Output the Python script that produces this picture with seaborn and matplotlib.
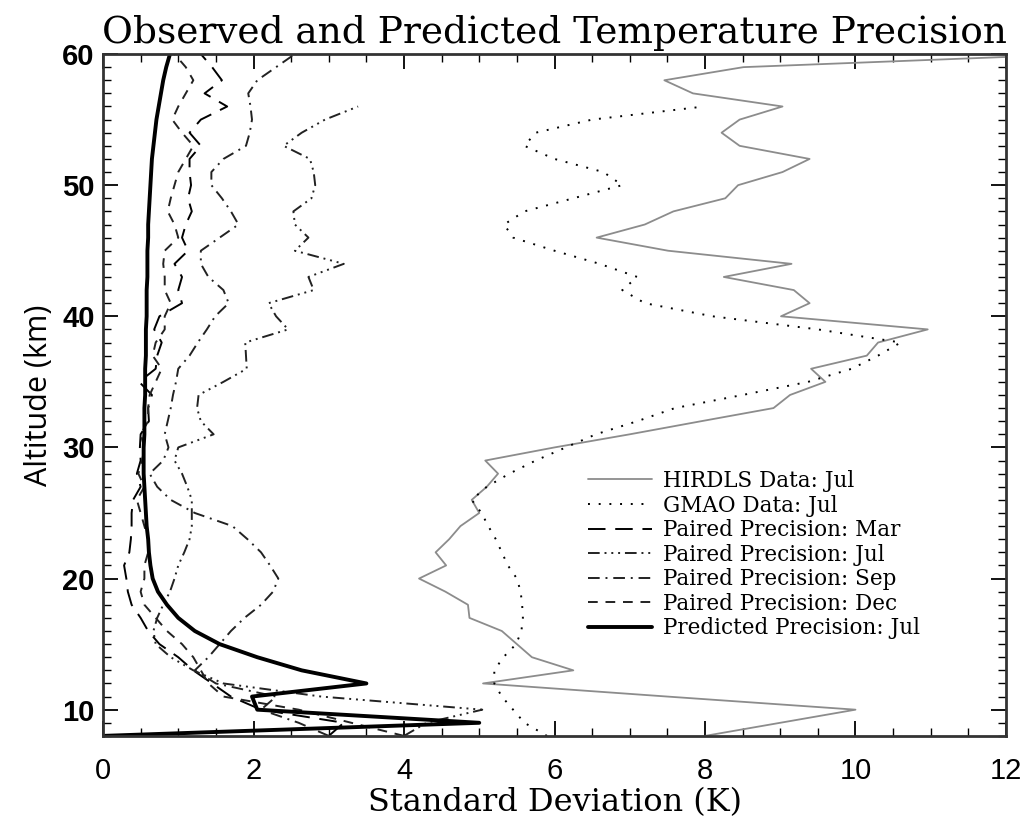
import numpy as np
import matplotlib
matplotlib.use("Agg")
import matplotlib.pyplot as plt
from matplotlib.ticker import MultipleLocator
import seaborn as sns

# altitude levels (km)
alt_full = np.arange(8, 61)
alt_jul = np.arange(8, 57)

hirdls_jul = [8.0, 9.0, 10.0, 7.5, 5.05, 6.25, 5.7, 5.5, 5.3, 4.87, 4.85, 4.55, 4.2,
              4.56, 4.42, 4.6, 4.75, 5.0, 4.9, 5.1, 5.25, 5.08, 6.0, 7.0, 7.95, 8.91,
              9.13, 9.6, 9.41, 10.15, 10.3, 10.96, 9.01, 9.39, 9.18, 8.25, 9.15, 7.51,
              6.56, 7.2, 7.58, 8.27, 8.44, 9.03, 9.39, 8.46, 8.22, 8.46, 9.03, 7.84,
              7.46, 8.51, 13.0]
gmao_jul = [5.9, 5.6, 5.45, 5.3, 5.2, 5.2, 5.32, 5.49, 5.56, 5.58, 5.57, 5.55, 5.5,
            5.38, 5.3, 5.22, 5.12, 5.03, 4.9, 5.1, 5.4, 5.75, 6.15, 6.55, 7.1, 7.6,
            8.5, 9.37, 9.95, 10.3, 10.6, 9.5, 8.1, 7.2, 6.9, 7.1, 6.6, 6.0, 5.45,
            5.33, 5.6, 6.25, 6.9, 6.65, 6.0, 5.6, 5.75, 6.5, 7.99]
paired_mar = [3.0, 3.2, 2.1, 1.7, 1.45, 1.2, 1.0, 0.75, 0.6, 0.5, 0.38, 0.33, 0.31,
              0.28, 0.35, 0.37, 0.38, 0.38, 0.4, 0.5, 0.45, 0.5, 0.49, 0.5, 0.61, 0.6,
              0.65, 0.48, 0.7, 0.72, 0.78, 0.68, 0.75, 1.05, 1.0, 1.05, 0.95, 1.13,
              1.05, 1.1, 1.18, 1.13, 1.17, 1.15, 1.15, 1.3, 1.15, 1.3, 1.65, 1.35,
              1.58, 1.45, 1.3]
paired_jul = [4.0, 4.3, 5.04, 2.9, 1.6, 1.2, 0.9, 0.7, 0.67, 0.72, 0.8, 0.89, 0.95,
              1.0, 1.08, 1.15, 1.18, 1.18, 1.18, 1.12, 1.05, 0.95, 1.0, 1.47, 1.3,
              1.25, 1.27, 1.6, 1.91, 1.9, 1.89, 2.46, 2.3, 2.2, 2.8, 2.73, 3.2, 2.55,
              2.73, 2.55, 2.53, 2.77, 2.82, 2.8, 2.75, 2.4, 2.64, 2.95, 3.39]
paired_sep = [3.0, 2.6, 2.1, 2.3, 1.5, 1.22, 1.4, 1.55, 1.7, 1.88, 2.1, 2.26, 2.33,
              2.22, 2.1, 1.92, 1.72, 1.22, 0.9, 0.72, 0.62, 0.8, 0.87, 0.82, 0.86,
              0.9, 0.93, 0.97, 1.0, 1.15, 1.26, 1.38, 1.49, 1.67, 1.6, 1.4, 1.3, 1.3,
              1.55, 1.8, 1.7, 1.58, 1.44, 1.44, 1.6, 1.9, 1.95, 1.98, 1.96, 1.93,
              2.05, 2.3, 2.55]
paired_dec = [4.0, 3.3, 2.6, 1.6, 1.4, 1.3, 1.2, 1.05, 0.85, 0.7, 0.55, 0.5, 0.55,
              0.55, 0.6, 0.6, 0.55, 0.5, 0.45, 0.55, 0.47, 0.52, 0.55, 0.5, 0.6, 0.6,
              0.62, 0.7, 0.78, 0.66, 0.7, 0.82, 0.82, 0.9, 0.82, 0.82, 0.8, 0.82, 1.0,
              0.95, 0.86, 0.9, 0.95, 1.0, 1.1, 1.2, 1.05, 0.92, 1.0, 1.1, 1.2, 1.1,
              0.95]
predicted_jul = [0.0, 5.0, 2.05, 1.98, 3.5, 2.64, 2.05, 1.55, 1.22, 1.0, 0.85, 0.73,
                 0.66, 0.63, 0.61, 0.6, 0.58, 0.57, 0.56, 0.55, 0.54, 0.54, 0.54, 0.55,
                 0.55, 0.55, 0.56, 0.56, 0.56, 0.57, 0.57, 0.57, 0.58, 0.58, 0.58, 0.59,
                 0.59, 0.59, 0.6, 0.6, 0.61, 0.62, 0.63, 0.64, 0.65, 0.67, 0.69, 0.71,
                 0.74, 0.77, 0.8, 0.84, 0.89]

sns.set_style("ticks")
plt.rcParams['font.family'] = ['DejaVu Serif', 'DejaVu Sans']
plt.rcParams['text.color'] = 'black'
plt.rcParams['axes.labelcolor'] = 'black'
plt.rcParams['xtick.color'] = 'black'
plt.rcParams['ytick.color'] = 'black'

fig = plt.figure(figsize=(10.26, 8.25), dpi=100)
ax = fig.add_axes([0.1004, 0.108, 0.8801, 0.8265])

sns.lineplot(x=hirdls_jul, y=alt_full, sort=False, estimator=None, ax=ax,
             color='#8c8c8c', linewidth=1.3, label='HIRDLS Data: Jul')
sns.lineplot(x=gmao_jul, y=alt_jul, sort=False, estimator=None, ax=ax,
             color='black', linewidth=1.4, linestyle=(0, (1, 4.5)),
             label='GMAO Data: Jul')
sns.lineplot(x=paired_mar, y=alt_full, sort=False, estimator=None, ax=ax,
             color='black', linewidth=1.4, linestyle=(0, (9, 5)),
             label='Paired Precision: Mar')
sns.lineplot(x=paired_jul, y=alt_jul, sort=False, estimator=None, ax=ax,
             color='#222222', linewidth=1.4, linestyle=(0, (6, 2.5, 1, 2.5, 1, 2.5, 1, 2.5)),
             label='Paired Precision: Jul')
sns.lineplot(x=paired_sep, y=alt_full, sort=False, estimator=None, ax=ax,
             color='#222222', linewidth=1.4, linestyle=(0, (6, 3, 1, 3)),
             label='Paired Precision: Sep')
sns.lineplot(x=paired_dec, y=alt_full, sort=False, estimator=None, ax=ax,
             color='#222222', linewidth=1.4, linestyle=(0, (5, 4)),
             label='Paired Precision: Dec')
sns.lineplot(x=predicted_jul, y=alt_full, sort=False, estimator=None, ax=ax,
             color='black', linewidth=2.8, label='Predicted Precision: Jul')

ax.set_xlim(0, 12)
ax.set_ylim(8, 60)
ax.xaxis.set_major_locator(MultipleLocator(2))
ax.xaxis.set_minor_locator(MultipleLocator(0.5))
ax.yaxis.set_major_locator(MultipleLocator(10))
ax.yaxis.set_minor_locator(MultipleLocator(1))
ax.tick_params(which='both', direction='in', top=True, right=True, color='black')
ax.tick_params(which='major', length=11, width=1.3)
ax.tick_params(which='minor', length=6, width=1.0)
ax.tick_params(axis='x', which='major', pad=15)
ax.tick_params(axis='y', which='major', pad=6)
for spine in ax.spines.values():
    spine.set_linewidth(2.0)
    spine.set_color('#333333')
    spine.set_visible(True)

for lab in ax.get_xticklabels():
    lab.set_fontfamily('Liberation Sans')
    lab.set_fontsize(21)
for lab in ax.get_yticklabels():
    lab.set_fontfamily('Liberation Sans')
    lab.set_fontweight('bold')
    lab.set_fontsize(21)

ax.set_xlabel('Standard Deviation (K)', fontsize=23, labelpad=2)
ax.set_ylabel('Altitude (km)', fontsize=22, family='Open Sans', labelpad=6)
ax.set_title('Observed and Predicted Temperature Precision', fontsize=27, pad=8)

leg = ax.legend(loc='upper left', bbox_to_anchor=(0.537, 0.39), frameon=False,
                fontsize=15.5, handlelength=3.0, handletextpad=0.5,
                labelspacing=0.12, borderpad=0, borderaxespad=0)

plt.savefig('out.png', dpi=100)
